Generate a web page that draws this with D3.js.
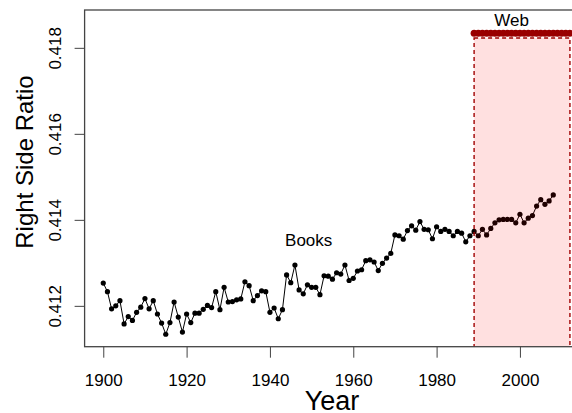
<!DOCTYPE html>
<html>
<head>
<meta charset="utf-8">
<script src="https://cdn.jsdelivr.net/npm/d3@7"></script>
<style>
  body { margin: 0; background: #fff; }
  svg { display: block; font-family: "Liberation Sans", Arial, Helvetica, sans-serif; }
</style>
</head>
<body>
<svg width="572" height="413"></svg>
<script>
// books series, one value per year from 1900
var bookYears = d3.range(1900, 2009);
var bookValues = [
  0.41253, 0.41233, 0.41193, 0.41200, 0.41212, 0.41158, 0.41175, 0.41166, 0.41185, 0.41197,
  0.41217, 0.41193, 0.41212, 0.41181, 0.41160, 0.41134, 0.41161, 0.41209, 0.41174, 0.41139,
  0.41181, 0.41161, 0.41183, 0.41183, 0.41192, 0.41201, 0.41196, 0.41233, 0.41191, 0.41243,
  0.41209, 0.41210, 0.41214, 0.41216, 0.41256, 0.41247, 0.41212, 0.41224, 0.41235, 0.41233,
  0.41185, 0.41195, 0.41170, 0.41191, 0.41272, 0.41254, 0.41295, 0.41237, 0.41228, 0.41249,
  0.41243, 0.41243, 0.41226, 0.41270, 0.41269, 0.41262, 0.41277, 0.41274, 0.41295, 0.41259,
  0.41264, 0.41281, 0.41284, 0.41305, 0.41307, 0.41302, 0.41282, 0.41299, 0.41311, 0.41322,
  0.41365, 0.41363, 0.41355, 0.41375, 0.41386, 0.41376, 0.41396, 0.41378, 0.41377, 0.41356,
  0.41384, 0.41373, 0.41378, 0.41373, 0.41363, 0.41373, 0.41369, 0.41349, 0.41363, 0.41373,
  0.41363, 0.41378, 0.41365, 0.41380, 0.41393, 0.41400, 0.41401, 0.41401, 0.41401, 0.41393,
  0.41413, 0.41393, 0.41404, 0.41410, 0.41432, 0.41447, 0.41436, 0.41444, 0.41458
];

// web series: flat value over the web period
var webYears = d3.range(1989, 2013);
var webValue = 0.41834;
var webBandTop = 0.41823;

var xTicks = [1900, 1920, 1940, 1960, 1980, 2000];
var yTicks = [0.412, 0.414, 0.416, 0.418];

var data = bookYears.map(function(yr, i) { return { year: yr, value: bookValues[i] }; });
var web = webYears.map(function(yr) { return { year: yr, value: webValue }; });

var svg = d3.select("svg");
svg.selectAll("*").remove();

var plotLeft = 84.6, plotTop = 10,
  width = 504, height = 336.7,
  g = svg.append("g").attr("transform", "translate(" + plotLeft + "," + plotTop + ")");

var x = d3.scaleLinear()
  .domain([1895.52, 2016.48])
  .range([0, width]);

var y = d3.scaleLinear()
  .domain([0.41105, 0.41888])
  .range([height, 0]);

g.append("clipPath")
  .attr("id", "plotclip")
  .append("rect")
  .attr("width", width)
  .attr("height", height);

var xAxis = g.append("g")
  .attr("transform", "translate(0," + height + ")")
  .call(d3.axisBottom(x).tickValues(xTicks).tickSize(11).tickFormat(d3.format("d")));
xAxis.select(".domain").remove();
xAxis.selectAll("line").attr("stroke", "#444");
xAxis.selectAll("text")
  .attr("y", 39.3)
  .attr("dy", 0)
  .attr("fill", "#000")
  .style("font-size", "17px");

var yAxis = g.append("g")
  .call(d3.axisLeft(y).tickValues(yTicks).tickSize(10).tickFormat(d3.format(".3f")));
yAxis.select(".domain").remove();
yAxis.selectAll("line").attr("stroke", "#444");
yAxis.selectAll("text")
  .attr("transform", "rotate(-90)")
  .attr("x", 0)
  .attr("y", -23.6)
  .attr("dy", 0)
  .attr("text-anchor", "middle")
  .attr("fill", "#000")
  .style("font-size", "17px");

var line = d3.line()
  .x(function(d) { return x(d.year); })
  .y(function(d) { return y(d.value); });

var plot = g.append("g").attr("clip-path", "url(#plotclip)");

plot.append("path")
  .datum(data)
  .attr("fill", "none")
  .attr("stroke", "#000")
  .attr("stroke-width", 1)
  .attr("d", line);

plot.selectAll(".book")
  .data(data)
  .enter().append("circle")
  .attr("class", "book")
  .attr("cx", function(d) { return x(d.year); })
  .attr("cy", function(d) { return y(d.value); })
  .attr("r", 2.6)
  .attr("fill", "#000");

// shaded web period, drawn over the books points
plot.append("rect")
  .attr("x", x(webYears[0]))
  .attr("y", y(webBandTop))
  .attr("width", x(webYears[webYears.length - 1]) - x(webYears[0]))
  .attr("height", height + 20 - y(webBandTop))
  .attr("fill", "rgb(255,0,0)")
  .attr("fill-opacity", 0.12)
  .attr("stroke", "#a00000")
  .attr("stroke-width", 1.4)
  .attr("stroke-dasharray", "4,3");

plot.selectAll(".web")
  .data(web)
  .enter().append("circle")
  .attr("class", "web")
  .attr("cx", function(d) { return x(d.year); })
  .attr("cy", function(d) { return y(d.value); })
  .attr("r", 3.5)
  .attr("fill", "#990000");

g.append("rect")
  .attr("width", width)
  .attr("height", height)
  .attr("fill", "none")
  .attr("stroke", "#444")
  .attr("stroke-width", 1.3);

g.append("text")
  .attr("x", x(1949.3))
  .attr("y", y(0.41339))
  .attr("text-anchor", "middle")
  .style("font-size", "17px")
  .text("Books");

g.append("text")
  .attr("x", x(1998))
  .attr("y", y(0.4185))
  .attr("text-anchor", "middle")
  .style("font-size", "17px")
  .text("Web");

svg.append("text")
  .attr("transform", "translate(33,162) rotate(-90)")
  .attr("text-anchor", "middle")
  .style("font-size", "24px")
  .text("Right Side Ratio");

svg.append("text")
  .attr("x", 332)
  .attr("y", 410)
  .attr("text-anchor", "middle")
  .style("font-size", "27px")
  .text("Year");
</script>
</body>
</html>
